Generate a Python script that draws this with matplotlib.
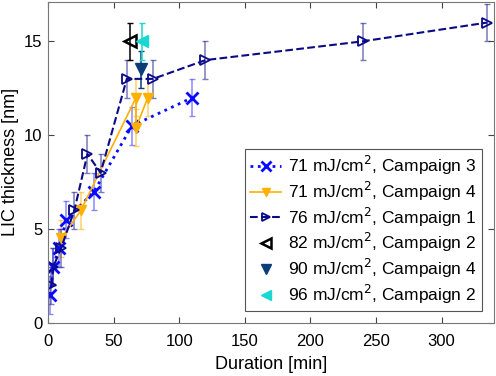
import numpy as np
import matplotlib.pyplot as plt

plt.rcParams['font.family'] = ['Liberation Sans', 'DejaVu Sans']

# Data
c3_x = [1.5, 4, 8, 14, 35, 64, 110]
c3_y = [1.5, 3, 4, 5.5, 7, 10.5, 12]

c4_x = [10, 25, 67, 67, 76]
c4_y = [4.5, 6, 12, 10.4, 12]

c1_x = [2.5, 4, 10, 20, 30, 40, 60, 80, 120, 240, 335]
c1_y = [2, 3, 4, 6, 9, 8, 13, 13, 14, 15, 16]

c82_x = [62.5]
c82_y = [15]
c90_x = [71]
c90_y = [13.5]
c96_x = [71.5]
c96_y = [15]

err = 1.0   # all error bars are +/- 1 nm

labels = ["71 mJ/cm$^2$, Campaign 3", "71 mJ/cm$^2$, Campaign 4",
          "76 mJ/cm$^2$, Campaign 1", "82 mJ/cm$^2$, Campaign 2",
          "90 mJ/cm$^2$, Campaign 4", "96 mJ/cm$^2$, Campaign 2"]

fig = plt.figure(figsize=(4.96, 3.76), dpi=100)
ax = fig.add_axes([0.097, 0.141, 0.899, 0.854])

# error bars (lighter)
ax.errorbar(c3_x, c3_y, yerr=err, fmt='none', ecolor=(0.3, 0.3, 1.0, 0.65), elinewidth=1.1, capsize=2.5)
ax.errorbar(c4_x, c4_y, yerr=err, fmt='none', ecolor=(1.0, 0.72, 0.1, 0.65), elinewidth=1.1, capsize=2.5)
ax.errorbar(c1_x, c1_y, yerr=err, fmt='none', ecolor=(0.2, 0.2, 0.6, 0.65), elinewidth=1.1, capsize=2.5)
ax.errorbar(c82_x, c82_y, yerr=err, fmt='none', ecolor='black', elinewidth=1.1, capsize=2.5)
ax.errorbar(c90_x, c90_y, yerr=err, fmt='none', ecolor='#0b3d78', elinewidth=1.1, capsize=2.5)
ax.errorbar(c96_x, c96_y, yerr=err, fmt='none', ecolor='#18d8d0', elinewidth=1.1, capsize=2.5)

# data lines
ax.plot(c3_x, c3_y, ':', color='#0a0aff', lw=2, marker='x', ms=8, mew=2, label=labels[0])
ax.plot(c4_x, c4_y, '-', color='#ffb000', lw=1.2, marker='v', ms=7, label=labels[1])
ax.plot(c1_x, c1_y, '--', color='#0a0a88', lw=1.5, marker='>', ms=7, mfc='none', mew=1.3, label=labels[2])
ax.plot(c82_x, c82_y, ls='none', color='black', marker='<', ms=8, mfc='none', mew=1.8, label=labels[3])
ax.plot(c90_x, c90_y, ls='none', color='#0b3d78', marker='v', ms=9, label=labels[4])
ax.plot(c96_x, c96_y, ls='none', color='#18d8d0', marker='<', ms=9, label=labels[5])

ax.set_xlim(0, 340)
ax.set_ylim(0, 17.1)
ax.set_xticks(np.arange(0, 301, 50))
ax.set_yticks([0, 5, 10, 15])
ax.set_xlabel("Duration [min]", fontsize=13, labelpad=5)
ax.set_ylabel("LIC thickness [nm]", fontsize=13)
ax.yaxis.set_label_coords(-0.066, 0.5)
ax.tick_params(direction='in', top=True, right=True, labelsize=12, color='#444444', length=4)
ax.tick_params(axis='x', pad=8)
ax.tick_params(axis='y', pad=4)
for s in ax.spines.values():
    s.set_color('#777777')

leg = ax.legend(loc='lower right', fontsize=12.5, handlelength=1.8, handletextpad=0.4,
                fancybox=False, edgecolor='#555555', framealpha=1, borderaxespad=0.7,
                labelspacing=0.15, borderpad=0.3, numpoints=1, markerscale=0.85)
leg.get_frame().set_linewidth(0.8)

fig.savefig("out.png", dpi=100)
